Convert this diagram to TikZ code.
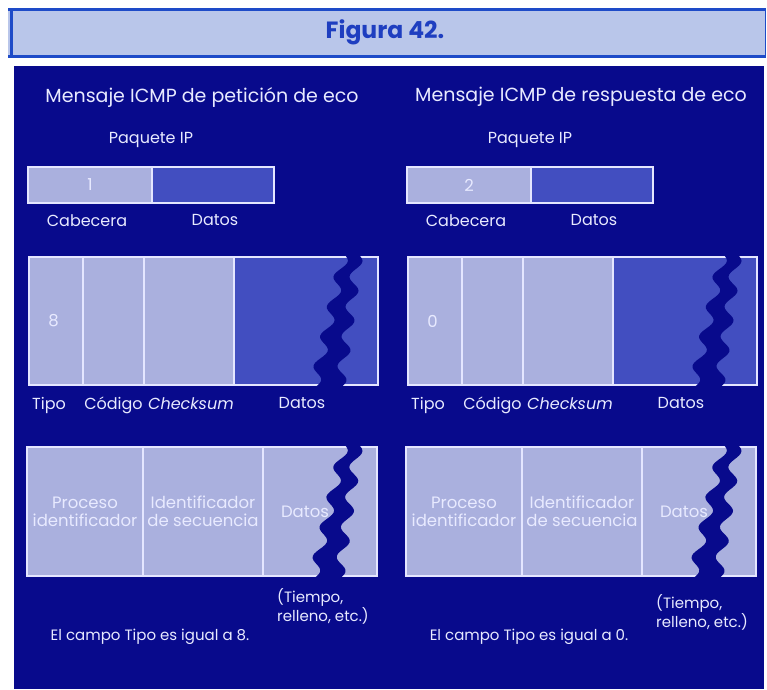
\documentclass[tikz,border=0pt]{standalone}
\usepackage{fontspec}
\setmainfont{Poppins}
\usetikzlibrary{positioning}
\definecolor{panelblue}{RGB}{8,10,140}
\definecolor{lightc}{RGB}{170,176,222}
\definecolor{midc}{RGB}{66,78,192}
\definecolor{edge}{RGB}{228,230,255}
\definecolor{txt}{RGB}{232,234,255}
\definecolor{headfill}{RGB}{185,198,234}
\definecolor{headline}{RGB}{30,75,200}
\definecolor{headtxt}{RGB}{30,62,192}

\begin{document}
\begin{tikzpicture}[
    x=1pt, y=-1pt,
    node distance = 4pt and 0pt,
    cell/.style   = {draw=edge, line width=1.5pt, fill=lightc,
                     inner sep=0pt, outer sep=0pt, text=txt,
                     font=\fontsize{16.5}{18}\selectfont, align=center},
    dcell/.style  = {cell, fill=midc},
    lbl/.style    = {text=txt, inner sep=0pt, font=\fontsize{16}{17}\selectfont},
    note/.style   = {text=txt, inner sep=0pt, font=\fontsize{15}{17}\selectfont},
    ttl/.style    = {text=txt, inner sep=0pt, font=\fontsize{19}{21}\selectfont}
]
\useasboundingbox[fill=white] (0,0) rectangle (767,689);

% cabecera de la figura
\fill[headfill] (8,8) rectangle (766,58);
\draw[headline, line width=3pt] (8,9.5) -- (766,9.5);
\draw[headline, line width=3pt] (8,56.5) -- (766,56.5);
\draw[headline, line width=3pt] (11.5,10) -- (11.5,56);
\draw[headline, line width=1pt] (765.5,10) -- (765.5,56);
\node[headtxt, font=\bfseries\fontsize{23.5}{26}\selectfont] (fig) at (385,32) {Figura 42.};

% fondo
\fill[panelblue] (14,66) rectangle (764,689);

\foreach \dx/\nm/\tit/\n/\t/\ty in {0/pet/petición/1/8/588, 379/res/respuesta/2/0/594} {

  \node[ttl] (\nm-tit) at (\dx+202,97) {Mensaje ICMP de \tit\ de eco};
  \node[lbl] (\nm-ip) at (\dx+151,140) {Paquete IP};

  % paquete IP
  \node[cell, minimum width=124pt, minimum height=36pt, anchor=north west]
      (\nm-cab) at (\dx+28,167) {\n};
  \node[dcell, minimum width=122pt, minimum height=36pt, right=0pt of \nm-cab] (\nm-dat) {};
  \node[lbl, below=11pt of \nm-cab, xshift=-3pt] {Cabecera};
  \node[lbl, below=11pt of \nm-dat, xshift=2pt] {Datos};

  % mensaje ICMP
  \node[cell, minimum width=54pt, minimum height=128pt, anchor=north west]
      (\nm-tipo) at (\dx+29,257) {\hspace*{-5pt}\t};
  \node[cell, minimum width=61pt, minimum height=128pt, right=0pt of \nm-tipo] (\nm-cod) {};
  \node[cell, minimum width=90pt, minimum height=128pt, right=0pt of \nm-cod] (\nm-chk) {};
  \node[dcell, minimum width=144pt, minimum height=128pt, right=0pt of \nm-chk] (\nm-dmsg) {};
  \node[lbl, below=12pt of \nm-tipo, xshift=-7pt] {Tipo};
  \node[lbl, below=12pt of \nm-cod] {Código};
  \node[lbl, below=12pt of \nm-chk, xshift=2pt] {\itshape Checksum};
  \node[lbl, below=12pt of \nm-dmsg, xshift=-4pt] {Datos};

  % campos del eco
  \node[cell, minimum width=116pt, minimum height=129pt, anchor=north west]
      (\nm-proc) at (\dx+27,447) {Proceso\\identificador};
  \node[cell, minimum width=120pt, minimum height=129pt, right=0pt of \nm-proc]
      (\nm-sec) {Identificador\\de secuencia};
  \node[cell, minimum width=114pt, minimum height=129pt, right=0pt of \nm-sec]
      (\nm-deco) {\hspace*{-30pt}Datos};

  % cortes ondulados
  \fill[panelblue] plot[smooth, domain=0:1, samples=60]
      ({\dx+351-24*\x-(7+6*\x)+5.5*sin(1620*\x)}, {254+134*\x})
      -- plot[smooth, domain=1:0, samples=60]
      ({\dx+351-24*\x+(7+6*\x)+5.5*sin(1620*\x)}, {254+134*\x}) -- cycle;
  \fill[panelblue] plot[smooth, domain=0:1, samples=60]
      ({\dx+351-25*\x-(7+6*\x)+5.5*sin(1620*\x)}, {444+135*\x})
      -- plot[smooth, domain=1:0, samples=60]
      ({\dx+351-25*\x+(7+6*\x)+5.5*sin(1620*\x)}, {444+135*\x}) -- cycle;

  \node[note, align=left, anchor=north east] (\nm-tiempo) at (\dx+369,\ty)
      {(Tiempo,\\relleno, etc.)};
  \node[note] (\nm-nota) at (\dx+150,637) {El campo Tipo es igual a \t.};
}
\end{tikzpicture}
\end{document}
